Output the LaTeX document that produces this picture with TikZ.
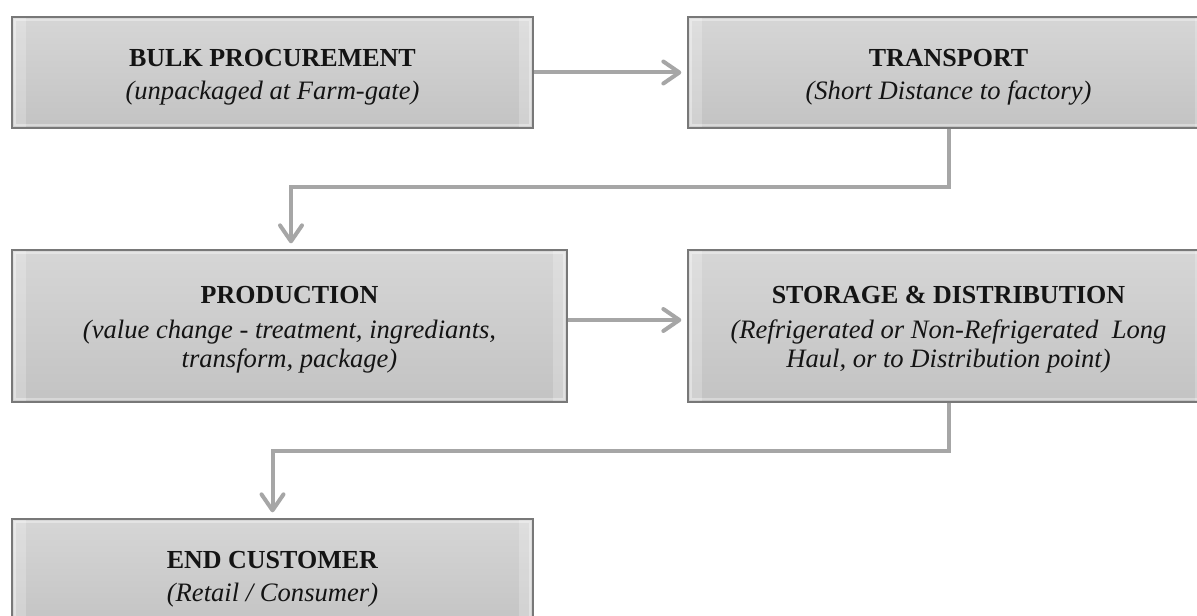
\documentclass[tikz,border=0pt]{standalone}
\usepackage{fontspec}
\setmainfont{Liberation Serif}
\usetikzlibrary{arrows.meta}

\definecolor{boxtop}{HTML}{D6D6D6}
\definecolor{boxbot}{HTML}{C3C3C3}
\definecolor{boxedge}{HTML}{787878}
\definecolor{flowgray}{HTML}{A6A6A6}

% extra room above the first line of a stage box
\newcommand{\stagestrut}{\rule{0pt}{13.6pt}}
\newcommand{\tallstrut}{\rule{0pt}{12.4pt}}
\newcommand{\stagenote}[1]{{\fontsize{13.3}{14.5}\selectfont\itshape #1}}

\tikzset{
  stage/.style={
    rectangle, draw=boxedge, line width=0.65pt,
    top color=boxtop, bottom color=boxbot,
    align=center, inner sep=0pt, text=black!92,
    font=\fontsize{13}{14.5}\selectfont,
    path picture={
      \fill[white, opacity=0.22]
        (path picture bounding box.north west) rectangle
        ([xshift=7pt]path picture bounding box.south west);
      \fill[white, opacity=0.22]
        ([xshift=-7pt]path picture bounding box.north east) rectangle
        (path picture bounding box.south east);
      \draw[white, opacity=0.35, line width=0.8pt]
        ([shift={(1.5pt,-1.5pt)}]path picture bounding box.north west) rectangle
        ([shift={(-1.5pt,1.5pt)}]path picture bounding box.south east);
    }
  },
  narrowrow/.style={minimum width=260.5pt, minimum height=55.5pt},
  tallrow/.style={minimum height=76pt},
  flow/.style={
    draw=flowgray, line width=2pt,
    -{Straight Barb[length=8pt, width=11pt, round]},
    shorten >=3pt
  }
}

\begin{document}
\begin{tikzpicture}[x=0.5pt, y=-0.5pt]
  \clip (0,0) rectangle (1197,615);
  \fill[white] (0,0) rectangle (1197,615);

  % process stages
  \node[stage, narrowrow] (bulk) at (272.5,72.5)
    {\stagestrut\textbf{BULK PROCUREMENT}\\[2pt]\stagenote{(unpackaged at Farm-gate)}};
  \node[stage, narrowrow] (transport) at (948.5,72.5)
    {\stagestrut\textbf{TRANSPORT}\\[2pt]\stagenote{(Short Distance to factory)}};
  \node[stage, tallrow, minimum width=277.5pt] (production) at (289.5,326)
    {\tallstrut\textbf{PRODUCTION}\\[3pt]\stagenote{(value change - treatment, ingrediants,}\\
     \stagenote{transform, package)}};
  \node[stage, tallrow, minimum width=260.5pt] (storage) at (948.5,326)
    {\tallstrut\textbf{STORAGE \& DISTRIBUTION}\\[3pt]\stagenote{(Refrigerated or Non-Refrigerated\ \ Long}\\
     \stagenote{Haul, or to Distribution point)}};
  \node[stage, narrowrow] (customer) at (272.5,574.5)
    {\stagestrut\textbf{END CUSTOMER}\\[2pt]\stagenote{(Retail / Consumer)}};

  % bends of the elbow connectors
  \coordinate (bendA) at (948.5,187);
  \coordinate (bendB) at (948.5,451);

  % flow between stages
  \draw[flow] (bulk) -- (transport);
  \draw[flow] (transport.south) -- (bendA) -| ([xshift=0.75pt]production.north);
  \draw[flow] ([yshift=3pt]production.east) -- ([yshift=3pt]storage.west);
  \draw[flow] (storage.south) -- (bendB) -| (customer.north);
\end{tikzpicture}
\end{document}
